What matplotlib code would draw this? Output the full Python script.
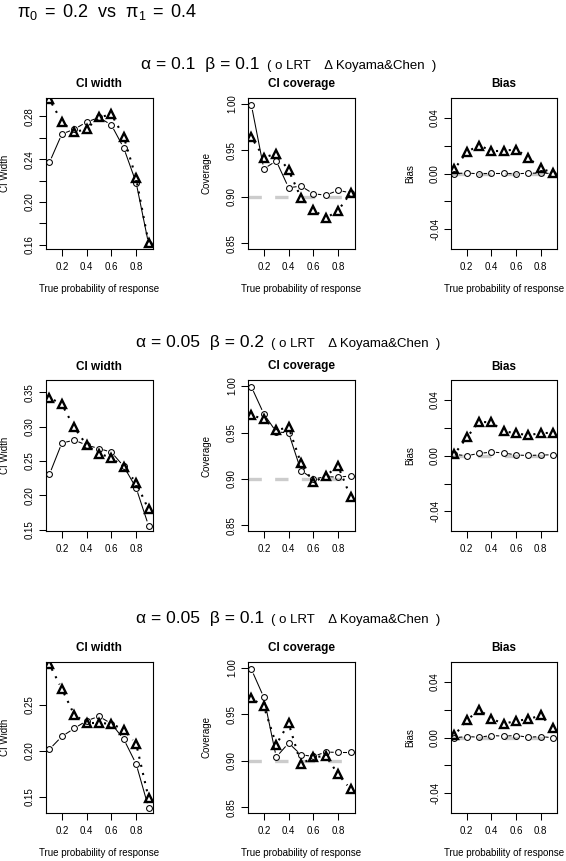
import numpy as np
import matplotlib
matplotlib.use("Agg")
import matplotlib.pyplot as plt

plt.rcParams["font.family"] = ["Liberation Sans", "DejaVu Sans"]
plt.rcParams["mathtext.default"] = "regular"

# ---------------------------------------------------------------------------
# Data
# ---------------------------------------------------------------------------

p_true = [0.1, 0.2, 0.3, 0.4, 0.5, 0.6, 0.7, 0.8, 0.9]

# row 1: alpha = 0.1, beta = 0.1
width_lrt_1 = [0.237, 0.2635, 0.268, 0.2747, 0.279, 0.272, 0.2504, 0.218, 0.161]
width_kc_1 = [0.296, 0.275, 0.265, 0.2685, 0.279, 0.282, 0.261, 0.222, 0.162]
cov_lrt_1 = [0.998, 0.930, 0.9385, 0.9097, 0.9115, 0.9032, 0.9018, 0.9069, 0.9043]
cov_kc_1 = [0.9637, 0.9421, 0.9464, 0.9285, 0.899, 0.886, 0.877, 0.8853, 0.904]
bias_lrt_1 = [0.0, 0.0003, -0.0002, 0.0001, 0.0001, -0.0002, 0.0002, 0.0003, 0.0]
bias_kc_1 = [0.0031, 0.0155, 0.0200, 0.0164, 0.0164, 0.0171, 0.0114, 0.0036, 0.0005]

# row 2: alpha = 0.05, beta = 0.2
width_lrt_2 = [0.2305, 0.276, 0.2802, 0.273, 0.268, 0.2627, 0.242, 0.2105, 0.1559]
width_kc_2 = [0.342, 0.3324, 0.2988, 0.273, 0.2607, 0.2544, 0.2412, 0.2183, 0.1793]
cov_lrt_2 = [0.999, 0.970, 0.9507, 0.9496, 0.909, 0.900, 0.9025, 0.902, 0.9032]
cov_kc_2 = [0.9687, 0.9644, 0.9526, 0.9555, 0.917, 0.8964, 0.9036, 0.9136, 0.881]
bias_lrt_2 = [0.001, 0.0, 0.0017, 0.0026, 0.0021, 0.0005, 0.0002, 0.0005, 0.0007]
bias_kc_2 = [0.0012, 0.0131, 0.0244, 0.0239, 0.0177, 0.016, 0.0148, 0.0162, 0.0165]

# row 3: alpha = 0.05, beta = 0.1
width_lrt_3 = [0.2016, 0.2155, 0.2242, 0.2325, 0.2373, 0.2293, 0.2125, 0.1856, 0.1384]
width_kc_3 = [0.2936, 0.267, 0.2391, 0.230, 0.230, 0.2293, 0.2227, 0.2076, 0.149]
cov_lrt_3 = [0.998, 0.968, 0.904, 0.919, 0.9065, 0.9047, 0.9094, 0.909, 0.909]
cov_kc_3 = [0.967, 0.9583, 0.9174, 0.9402, 0.8967, 0.9036, 0.9054, 0.8855, 0.8696]
bias_lrt_3 = [-0.0002, 0.0007, 0.0002, 0.0014, 0.001, 0.0014, 0.0002, 0.0007, -0.0002]
bias_kc_3 = [0.0017, 0.0122, 0.020, 0.0134, 0.0098, 0.0119, 0.0131, 0.0158, 0.0067]

alphas = ["0.1", "0.05", "0.05"]
betas = ["0.1", "0.2", "0.1"]

width_lrt = [width_lrt_1, width_lrt_2, width_lrt_3]
width_kc = [width_kc_1, width_kc_2, width_kc_3]
cov_lrt = [cov_lrt_1, cov_lrt_2, cov_lrt_3]
cov_kc = [cov_kc_1, cov_kc_2, cov_kc_3]
bias_lrt = [bias_lrt_1, bias_lrt_2, bias_lrt_3]
bias_kc = [bias_kc_1, bias_kc_2, bias_kc_3]

# y ranges / ticks of the CI width panels (they differ per row)
width_ylim = [(0.156, 0.2972), (0.148, 0.367), (0.1325, 0.2962)]
width_ticks = [[0.16, 0.18, 0.20, 0.22, 0.24, 0.26, 0.28],
               [0.15, 0.20, 0.25, 0.30, 0.35],
               [0.15, 0.20, 0.25]]
width_labels = [["0.16", "", "0.20", "", "0.24", "", "0.28"],
                ["0.15", "0.20", "0.25", "0.30", "0.35"],
                ["0.15", "0.20", "0.25"]]
cov_ticks = [0.85, 0.90, 0.95, 1.00]
cov_labels = ["0.85", "0.90", "0.95", "1.00"]
bias_ticks = [-0.04, -0.02, 0.0, 0.02, 0.04]
bias_labels = ["-0.04", "", "0.00", "", "0.04"]
x_ticks = [0.2, 0.4, 0.6, 0.8]

# ---------------------------------------------------------------------------
# Layout (pixel boxes of the reference)
# ---------------------------------------------------------------------------

W, H = 566, 861
COLS = [(45.5, 152.5), (247.5, 354.5), (450.5, 557.0)]
ROWS = [(98.0, 249.0), (380.5, 531.0), (662.0, 813.0)]
ROW_TITLE_Y = [69.5, 347.0, 623.0]
GREY = "#cccccc"
GAP = 5.0   # px gap around points (like R type="b")


def add_box(fig, r, c):
    x0, x1 = COLS[c]
    y0, y1 = ROWS[r]
    return fig.add_axes([x0 / W, 1 - y1 / H, (x1 - x0) / W, (y1 - y0) / H])


def type_b(ax, x, y, **kw):
    """Lines between points with small gaps around each point."""
    pts = ax.transData.transform(np.column_stack([x, y]))
    inv = ax.transData.inverted()
    for (xa, ya), (xb, yb) in zip(pts[:-1], pts[1:]):
        d = np.hypot(xb - xa, yb - ya)
        if d <= 2 * GAP:
            continue
        ux, uy = (xb - xa) / d, (yb - ya) / d
        seg = inv.transform([(xa + ux * GAP, ya + uy * GAP),
                             (xb - ux * GAP, yb - uy * GAP)])
        ax.plot(seg[:, 0], seg[:, 1], color="black", **kw)


def style(ax, title, ylabel, xlabel, ylim, yticks, ylabels):
    ax.set_xlim(0.068, 0.932)
    ax.set_ylim(*ylim)
    ax.set_xticks(x_ticks)
    ax.set_xticklabels(["0.2", "0.4", "0.6", "0.8"])
    ax.set_yticks(yticks)
    ax.set_yticklabels(ylabels)
    ax.tick_params(direction="out", length=5, width=0.75, labelsize=7,
                   colors="black")
    ax.tick_params(axis="x", pad=4.5)
    ax.tick_params(axis="y", pad=2.5, labelrotation=90)
    for lab in ax.get_yticklabels():
        lab.set_va("center")
    for s in ax.spines.values():
        s.set_linewidth(0.8)
    h = ax.get_position().height * H
    w = ax.get_position().width * W
    ax.text(0.5, 1 + 14 / h, title, transform=ax.transAxes, ha="center",
            va="center", fontsize=8.5, fontweight="bold")
    ax.text(-40.5 / w, 0.5, ylabel, transform=ax.transAxes, ha="center",
            va="center", rotation=90, fontsize=7)
    if xlabel:
        ax.text(0.5, -40 / h, xlabel, transform=ax.transAxes, ha="center",
                va="center", fontsize=7)


def draw_panel(ax, lrt, kc, ref=None):
    if ref is not None:
        ax.axhline(ref, color=GREY, lw=2.4, dashes=(4, 4), zorder=1)
    type_b(ax, p_true, lrt, lw=0.75, zorder=2)
    type_b(ax, p_true, kc, lw=1.5, dashes=(1, 3), zorder=2)
    ax.plot(p_true, lrt, ls="none", marker="o", ms=4.2, mfc="none",
            mec="black", mew=0.75, zorder=3)
    ax.plot(p_true, kc, ls="none", marker="^", ms=5.8, mfc="none",
            mec="black", mew=1.7, zorder=3)


fig = plt.figure(figsize=(W / 100, H / 100), dpi=100)

for r in range(3):
    xlabel = "True probability of response" if r != 1 else None

    ax = add_box(fig, r, 0)
    style(ax, "CI width", "CI Width", xlabel, width_ylim[r],
          width_ticks[r], width_labels[r])
    draw_panel(ax, width_lrt[r], width_kc[r])

    ax = add_box(fig, r, 1)
    style(ax, "CI coverage", "Coverage", xlabel, (0.844, 1.006),
          cov_ticks, cov_labels)
    draw_panel(ax, cov_lrt[r], cov_kc[r], ref=0.90)

    ax = add_box(fig, r, 2)
    style(ax, "Bias", "Bias", xlabel, (-0.054, 0.054),
          bias_ticks, bias_labels)
    draw_panel(ax, bias_lrt[r], bias_kc[r], ref=0.0)

# main title
fig.text(17 / W, 1 - 17 / H,
         r"$\pi_0\:=\:0.2$  vs  $\pi_1\:=\:0.4$",
         fontsize=13, ha="left", va="baseline")

# row titles: larger math part + smaller legend part, centred together
renderer = fig.canvas.get_renderer()
for r in range(3):
    yb = 1 - ROW_TITLE_Y[r] / H
    t1 = fig.text(0, yb, f"α = {alphas[r]}  β = {betas[r]}", fontsize=12.5,
                  ha="left", va="baseline")
    t2 = fig.text(0, yb, "( o LRT    Δ Koyama&Chen  )", fontsize=9.5,
                  ha="left", va="baseline")
    w1 = t1.get_window_extent(renderer).width
    w2 = t2.get_window_extent(renderer).width
    x0 = 288.5 - (w1 + 7 + w2) / 2
    t1.set_x(x0 / W)
    t2.set_x((x0 + w1 + 7) / W)

fig.savefig("out.png", dpi=100)
